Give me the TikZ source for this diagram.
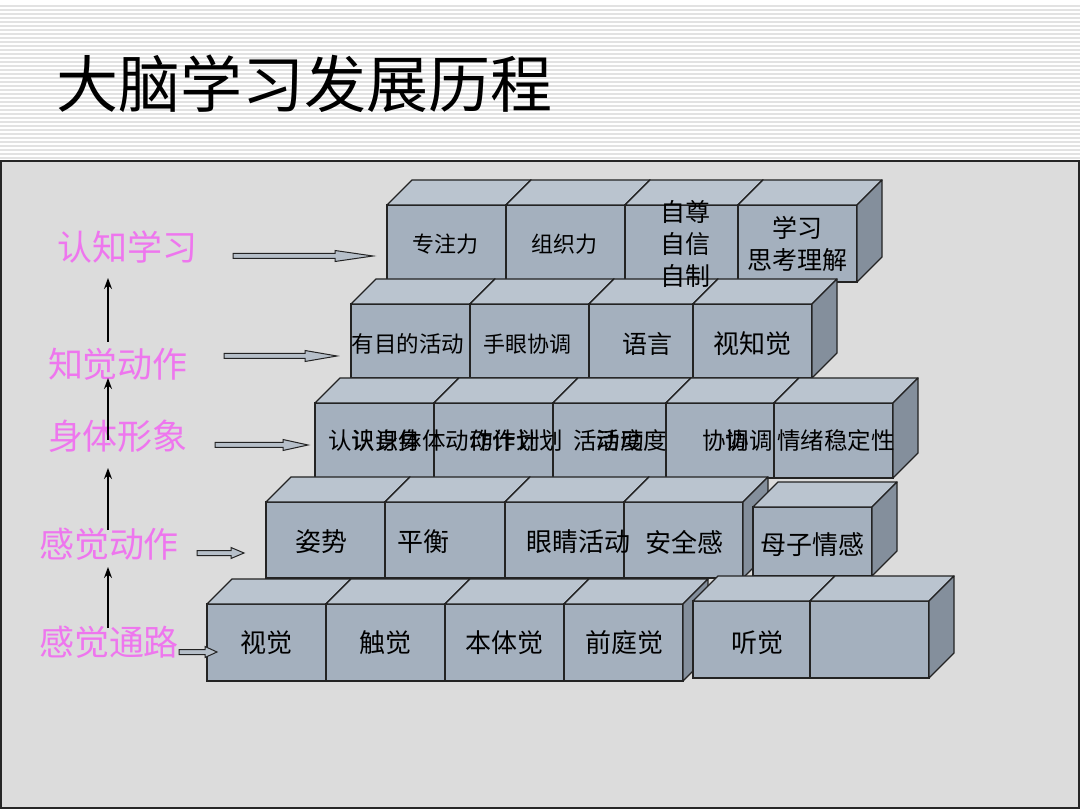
\documentclass[tikz,border=0pt]{standalone}
\usepackage{fontspec}
\newfontfamily\cjk{Noto Sans CJK SC}
\usetikzlibrary{arrows.meta,calc}
\definecolor{panelbg}{RGB}{220,220,220}
\definecolor{frontc}{RGB}{164,176,190}
\definecolor{topc}{RGB}{186,196,207}
\definecolor{sidec}{RGB}{132,143,156}
\definecolor{edgec}{RGB}{35,35,35}
\definecolor{labelc}{RGB}{238,118,238}
\definecolor{stripec}{RGB}{226,226,226}
\definecolor{arrowfill}{RGB}{182,191,201}
\newcommand\mkblock[5]{%
  \pgfmathsetmacro\bw{#3-#2}%
  \pgfmathsetmacro\bh{#5-#4}%
  \node[blockfront, minimum width=\bw pt, minimum height=\bh pt] (#1) at ({(#2+#3)/2},{(#4+#5)/2}) {};
  \draw[topface] (#1.north west) -- ++(25,-25) -- ($(#1.north east)+(25,-25)$) -- (#1.north east) -- cycle;
  \draw[sideface] (#1.north east) -- ++(25,-25) -- ++(0,\bh) -- (#1.south east) -- cycle;
}
\newcommand\fatarrow[4]{%
  \draw[fatarr] (#1,#3-2.5) -- (#2-#4,#3-2.5) -- (#2-#4,#3-5.5) -- (#2,#3) -- (#2-#4,#3+5.5) -- (#2-#4,#3+2.5) -- (#1,#3+2.5) -- cycle;
}
\begin{document}
\begin{tikzpicture}[x=1pt,y=-1pt,
  blockfront/.style={rectangle, draw=edgec, fill=frontc, line width=1.3pt, outer sep=0pt, inner sep=0pt},
  topface/.style={draw=edgec, fill=topc, line width=1.3pt, line join=round},
  sideface/.style={draw=edgec, fill=sidec, line width=1.3pt, line join=round},
  btext/.style={font=\cjk\fontsize{#1}{#1}\selectfont, text=black, inner sep=0pt},
  btext/.default=25,
  mtext/.style={font=\cjk\fontsize{25}{32}\selectfont, text=black, inner sep=0pt, align=center},
  lvl/.style={font=\cjk\fontsize{35}{35}\selectfont, text=labelc, inner sep=0pt},
  uparr/.style={line width=1.3pt, draw=black, -{Stealth[length=11pt,width=8pt]}},
  fatarr/.style={draw=edgec, fill=arrowfill, line width=1pt, line join=miter}]
\useasboundingbox (0,0) rectangle (1080,810);
\fill[white] (0,0) rectangle (1080,810);
% header stripes
\foreach \yy in {6,10,...,158} \draw[stripec, line width=1.6pt] (0,\yy) -- (1080,\yy);
% title
\node[font=\cjk\fontsize{62}{62}\selectfont, anchor=west, inner sep=0pt] (title) at (56,84) {大脑学习发展历程};
% panel
\draw[fill=panelbg, draw=black!85, line width=1.6pt] (1,161) rectangle (1079,808);

% row 1
\mkblock{r1a}{387}{506}{205}{281}
\mkblock{r1b}{506}{625}{205}{281}
\mkblock{r1c}{625}{738}{205}{281}
\mkblock{r1d}{738}{857}{205}{282}
% row 2
\mkblock{r2a}{351}{470}{304}{378}
\mkblock{r2b}{470}{589}{304}{378}
\mkblock{r2c}{589}{693}{304}{378}
\mkblock{r2d}{693}{812}{304}{378}
% row 3
\mkblock{r3a}{315}{434}{403}{478}
\mkblock{r3b}{434}{553}{403}{478}
\mkblock{r3c}{553}{666}{403}{478}
\mkblock{r3d}{666}{774}{403}{478}
\mkblock{r3e}{774}{893}{403}{478}
% row 4
\mkblock{r4a}{266}{385}{502}{578}
\mkblock{r4b}{385}{505}{502}{578}
\mkblock{r4c}{505}{624}{502}{578}
\mkblock{r4d}{624}{743}{502}{578}
\mkblock{r4e}{753}{872}{507}{576}
% row 5
\mkblock{r5a}{207}{326}{604}{681}
\mkblock{r5b}{326}{445}{604}{681}
\mkblock{r5c}{445}{564}{604}{681}
\mkblock{r5d}{564}{683}{604}{681}
\mkblock{r5e}{693}{810}{601}{678}
\mkblock{r5f}{810}{929}{601}{678}

% block texts
\node[btext=22] (t1a) at (445,244) {专注力};
\node[btext=22] (t1b) at (564,244) {组织力};
\node[mtext] (t1c) at (685,244) {自尊\\自信\\自制};
\node[mtext] (t1d) at (797,244) {学习\\思考理解};
\node[btext=22.5] (t2a) at (408,344) {有目的活动};
\node[btext=22] (t2b) at (527,344) {手眼协调};
\node[btext=25] (t2c) at (647,344) {语言};
\node[btext=26] (t2d) at (752,344) {视知觉};
\node[btext=23.5, anchor=west] (t3a) at (328,441) {认识身体};
\node[btext=23.5, anchor=west] (t3b) at (351.5,441) {认识身体动作计划};
\node[btext=23.5, anchor=west] (t3c) at (469,441) {动作计划};
\node[btext=23.5, anchor=west] (t3d) at (573,441) {活动度};
\node[btext=23.5, anchor=west] (t3e) at (596.5,441) {活动度};
\node[btext=23.5, anchor=west] (t3f) at (702,441) {协调};
\node[btext=23.5, anchor=west] (t3g) at (725.5,441) {协调};
\node[btext=23.5, anchor=west] (t3h) at (777,441) {情绪稳定性};
\node[btext=26] (t4a) at (321,542) {姿势};
\node[btext=26] (t4b) at (423,542) {平衡};
\node[btext=26] (t4c) at (578,542) {眼睛活动};
\node[btext=26] (t4d) at (684,542) {安全感};
\node[btext=26] (t4e) at (812,545) {母子情感};
\node[btext=26] (t5a) at (266,643) {视觉};
\node[btext=26] (t5b) at (385,643) {触觉};
\node[btext=26] (t5c) at (504,643) {本体觉};
\node[btext=26] (t5d) at (624,643) {前庭觉};
\node[btext=26] (t5e) at (757,643) {听觉};

% level labels
\node[lvl] (l1) at (127,247) {认知学习};
\node[lvl] (l2) at (118,364) {知觉动作};
\node[lvl] (l3) at (118,436) {身体形象};
\node[lvl] (l4) at (109,544) {感觉动作};
\node[lvl] (l5) at (109,642) {感觉通路};

% vertical arrows
\coordinate (v1s) at (108,342); \coordinate (v1e) at (108,278);
\coordinate (v2s) at (108,440); \coordinate (v2e) at (108,378);
\coordinate (v3s) at (108,530); \coordinate (v3e) at (108,468);
\coordinate (v4s) at (108,628); \coordinate (v4e) at (108,567);
\draw[uparr] (v1s) -- (v1e);
\draw[uparr] (v2s) -- (v2e);
\draw[uparr] (v3s) -- (v3e);
\draw[uparr] (v4s) -- (v4e);

% horizontal hollow arrows
\fatarrow{233}{373}{256}{38}
\fatarrow{224}{337}{356}{32}
\fatarrow{215}{308}{445}{25}
\fatarrow{197}{244}{553}{13}
\fatarrow{179}{217}{652}{12}
\end{tikzpicture}
\end{document}
